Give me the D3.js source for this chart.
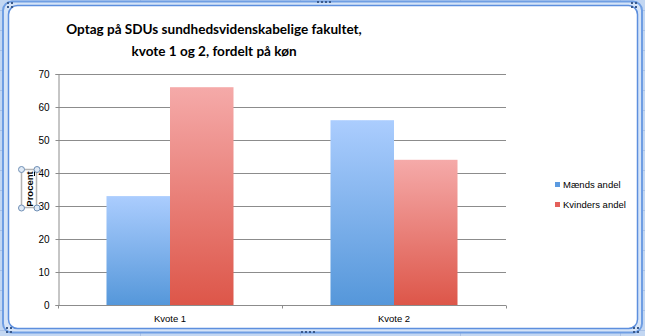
<!DOCTYPE html>
<html><head><meta charset="utf-8">
<script src="https://cdn.jsdelivr.net/npm/d3@7"></script>
<style>html,body{margin:0;padding:0;background:#fff;overflow:hidden}</style>
</head><body>
<svg id="c" width="645" height="336"></svg>
<script>
const categories = ["Kvote 1", "Kvote 2"];
const seriesNames = ["Mænds andel", "Kvinders andel"];
const maleValues = [33, 56];
const femaleValues = [66, 44];
const yTicks = [0, 10, 20, 30, 40, 50, 60, 70];
const titleLines = ["Optag på SDUs sundhedsvidenskabelige fakultet,", "kvote 1 og 2, fordelt på køn"];

const svg = d3.select("#c");
const W = 645, H = 336;
const defs = svg.append("defs");
function grad(id, top, bottom) {
  const g = defs.append("linearGradient").attr("id", id).attr("x1", 0).attr("y1", 0).attr("x2", 0).attr("y2", 1);
  g.append("stop").attr("offset", "0%").attr("stop-color", top);
  g.append("stop").attr("offset", "100%").attr("stop-color", bottom);
}
grad("gBlue", "#abcdfe", "#5597da");
grad("gRed", "#f5aaa9", "#dd5649");

// Spreadsheet background
svg.append("rect").attr("width", W).attr("height", H).attr("fill", "#c3d7f2");
const gridBg = svg.append("g").attr("stroke", "#a9c1e6").attr("stroke-width", 1);
for (let y = 10; y < H; y += 20) gridBg.append("line").attr("x1", 0).attr("x2", W).attr("y1", y + 0.5).attr("y2", y + 0.5);
for (let x = 140; x < W; x += 160) gridBg.append("line").attr("y1", 0).attr("y2", H).attr("x1", x + 0.5).attr("x2", x + 0.5);

// Chart frame
svg.append("rect").attr("x", 3).attr("y", 1.5).attr("width", 639).attr("height", 331).attr("rx", 9)
  .attr("fill", "#d6e4f7").attr("stroke", "#6f9ee3").attr("stroke-width", 2);
svg.append("rect").attr("x", 8.5).attr("y", 5.5).attr("width", 629).attr("height", 323).attr("rx", 9)
  .attr("fill", "#fff").attr("stroke", "#5d8fde").attr("stroke-width", 1.5);
function dots(cx, cy) {
  [[0,0],[4,0],[0,4],[4,4]].forEach(d => svg.append("rect").attr("x", cx + d[0]).attr("y", cy + d[1]).attr("width", 2).attr("height", 2).attr("fill", "#3a5a8c"));
}
dots(7, 2); dots(631, 2); dots(6, 327); dots(633, 327);
[0,1,2,3].forEach(i => svg.append("rect").attr("x", 317 + i * 4).attr("y", 1).attr("width", 2).attr("height", 2).attr("fill", "#3a5a8c"));
[0,1,2,3].forEach(i => svg.append("rect").attr("x", 301 + i * 4).attr("y", 331).attr("width", 2).attr("height", 2).attr("fill", "#3a5a8c"));

// Scales
const x0 = d3.scaleBand().domain(categories).range([58, 506]).paddingInner(0.433).paddingOuter(0.2165);
const x1 = d3.scaleBand().domain(seriesNames).range([0, x0.bandwidth()]);
const y = d3.scaleLinear().domain([0, 70]).range([305, 74]);

// Gridlines
svg.append("g").selectAll("line").data(yTicks.filter(t => t > 0)).join("line")
  .attr("x1", 58).attr("x2", 506).attr("y1", d => Math.round(y(d)) + 0.5).attr("y2", d => Math.round(y(d)) + 0.5)
  .attr("stroke", "#8c8c8c").attr("stroke-width", 1);

// Bars
const data = categories.map((c, i) => ({c, vals: [maleValues[i], femaleValues[i]]}));
const fills = ["url(#gBlue)", "url(#gRed)"];
const gb = svg.append("g").selectAll("g").data(data).join("g").attr("transform", d => `translate(${x0(d.c)},0)`);
gb.selectAll("rect").data(d => d.vals.map((v, j) => ({v, j}))).join("rect")
  .attr("x", d => x1(seriesNames[d.j])).attr("width", x1.bandwidth())
  .attr("y", d => y(d.v)).attr("height", d => y(0) - y(d.v))
  .attr("fill", d => fills[d.j]);

// Axes
const yAxis = d3.axisLeft(y).tickValues(yTicks).tickSize(3).tickPadding(6);
const ya = svg.append("g").attr("transform", "translate(58.5,0)").call(yAxis);
ya.select(".domain").attr("stroke", "#8c8c8c");
ya.selectAll(".tick line").attr("stroke", "#8c8c8c");
ya.selectAll("text").attr("font-family", "Liberation Sans, Arial, sans-serif").attr("font-size", "10px").attr("fill", "#000");

const xPos = d3.scaleOrdinal().domain(categories).range(categories.map(c => x0(c) + x0.bandwidth() / 2));
const xa = svg.append("g").attr("transform", "translate(0,305.5)");
xa.append("line").attr("x1", 58).attr("x2", 506).attr("stroke", "#8c8c8c");
[58, 282, 506].forEach(t => xa.append("line").attr("x1", t + 0.5).attr("x2", t + 0.5).attr("y1", 0).attr("y2", 3).attr("stroke", "#8c8c8c"));
xa.selectAll("text").data(categories).join("text")
  .attr("x", d => xPos(d)).attr("y", 16).attr("text-anchor", "middle")
  .attr("font-family", "Liberation Sans, Arial, sans-serif").attr("font-size", "9.5px").attr("fill", "#000").text(d => d);

// Title
const tg = svg.append("g");
titleLines.forEach((t, i) => {
  tg.append("text").attr("x", 214).attr("y", 34 + i * 21.5).attr("text-anchor", "middle")
    .attr("font-family", "Lato, 'Open Sans', sans-serif").attr("font-weight", "bold").attr("font-size", "18px").attr("fill", "#000").text(t);
});
const w0 = tg.select("text").node().getComputedTextLength();
const fs = 18 * 296 / w0;
tg.selectAll("text").attr("font-size", fs + "px");

// Y axis title with selection box
svg.append("rect").attr("x", 21.5).attr("y", 169.5).attr("width", 15).attr("height", 38).attr("fill", "none").attr("stroke", "#b5b5b5").attr("stroke-width", 1.5);
svg.append("text").attr("transform", "translate(33,189) rotate(-90)").attr("text-anchor", "middle")
  .attr("font-family", "Liberation Sans, Arial, sans-serif").attr("font-weight", "bold").attr("font-size", "9.5px").text("Procent");
svg.append("line").attr("x1", 34.5).attr("x2", 34.5).attr("y1", 168).attr("y2", 176).attr("stroke", "#000");
[[21.5,169.5],[37,169.5],[21.5,208],[37,208]].forEach(p => svg.append("circle").attr("cx", p[0]).attr("cy", p[1]).attr("r", 3)
  .attr("fill", "#dfe9f5").attr("stroke", "#6f8fb5").attr("stroke-width", 1));

// Legend
const lg = svg.append("g").selectAll("g").data(seriesNames).join("g").attr("transform", (d, i) => `translate(555,${182 + i * 20})`);
lg.append("rect").attr("width", 5).attr("height", 5).attr("fill", (d, i) => i === 0 ? "#5b9ae0" : "#e4605a");
lg.append("text").attr("x", 8).attr("y", 3).attr("dy", "0.35em").attr("font-family", "Liberation Sans, Arial, sans-serif").attr("font-size", "9.5px").text(d => d);
</script>
</body></html>
